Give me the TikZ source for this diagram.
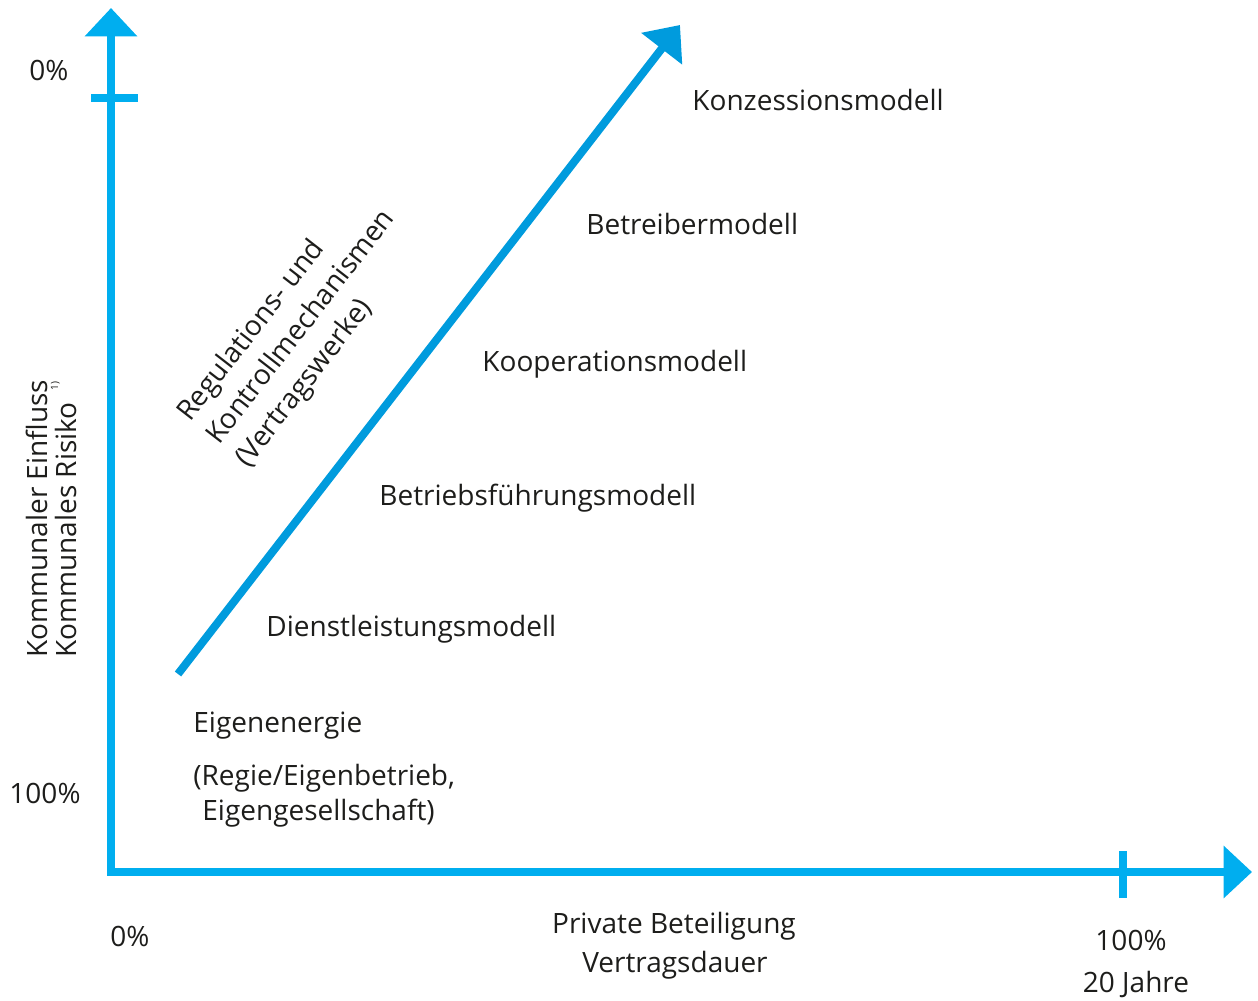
\documentclass[tikz,border=0pt]{standalone}
\usepackage{fontspec}
\setmainfont{Open Sans}
\usetikzlibrary{arrows.meta}
\definecolor{blau}{HTML}{00AEEF}
\definecolor{pfeilblau}{HTML}{009BDD}
\definecolor{schrift}{HTML}{1D1D1B}
\begin{document}
\begin{tikzpicture}[x=0.5pt,y=-0.5pt,>={Triangle[width=25.5pt,length=14.2pt]},
    every node/.style={inner sep=0pt,text=schrift,font=\fontsize{14}{17}\selectfont},
    achse/.style={line width=4.25pt,draw=blau},
    modell/.style={anchor=base west},
    schraeg/.style={anchor=base west,rotate=52.2}]
  \useasboundingbox (0,0) rectangle (1258,1001);
  \coordinate (ursprung) at (111,872);
  \coordinate (yende) at (111,8);
  \coordinate (xende) at (1252,872);
  \coordinate (start) at (178,674);
  \coordinate (ziel) at (680,25);

  \draw[achse,<->] (yende) -- (ursprung) -- (xende);
  \draw[achse] (91,98) -- (138,98);
  \draw[achse] (1123,851) -- (1123,898);
  \draw[line width=4pt,draw=pfeilblau,-{Triangle[width=25pt,length=15pt]}] (start) -- (ziel);

  \node[anchor=base] (ynull) at (49,80) {0\%};
  \node[anchor=base] (yhundert) at (45,803) {100\%};
  \node[anchor=base] (xnull) at (130,946) {0\%};
  \node[anchor=base] (xhundert) at (1131,950) {100\%};
  \node[anchor=base] (jahre) at (1136,992) {20 Jahre};
  \node[anchor=base] (privat) at (674,933) {Private Beteiligung};
  \node[anchor=base] (dauer) at (675,972) {Vertragsdauer};
  \node[rotate=90,anchor=base west] (einfluss) at (47,658) {Kommunaler Einfluss};
  \node[rotate=90,anchor=base west] (risiko) at (76,658)
    {Kommunales Risiko\hspace{6pt}\raisebox{9pt}{\fontsize{5}{6}\selectfont 1)}};

  \node[schraeg] (regul) at (190,423) {Regulations- und};
  \node[schraeg] (kontroll) at (219,446) {Kontrollmechanismen};
  \node[schraeg] (vertrag) at (248,469) {(Vertragswerke)};

  \node[modell] (konz) at (692,110) {Konzessionsmodell};
  \node[modell] (betreib) at (586,234) {Betreibermodell};
  \node[modell] (koop) at (482,371) {Kooperationsmodell};
  \node[modell] (fuehr) at (379,505) {Betriebsführungsmodell};
  \node[modell] (dienst) at (266,636) {Dienstleistungsmodell};
  \node[modell] (eigen) at (193,732) {Eigenenergie};
  \node[modell] (regie) at (193,785) {(Regie/Eigenbetrieb,};
  \node[modell] (gesell) at (202,820) {Eigengesellschaft)};
\end{tikzpicture}
\end{document}
